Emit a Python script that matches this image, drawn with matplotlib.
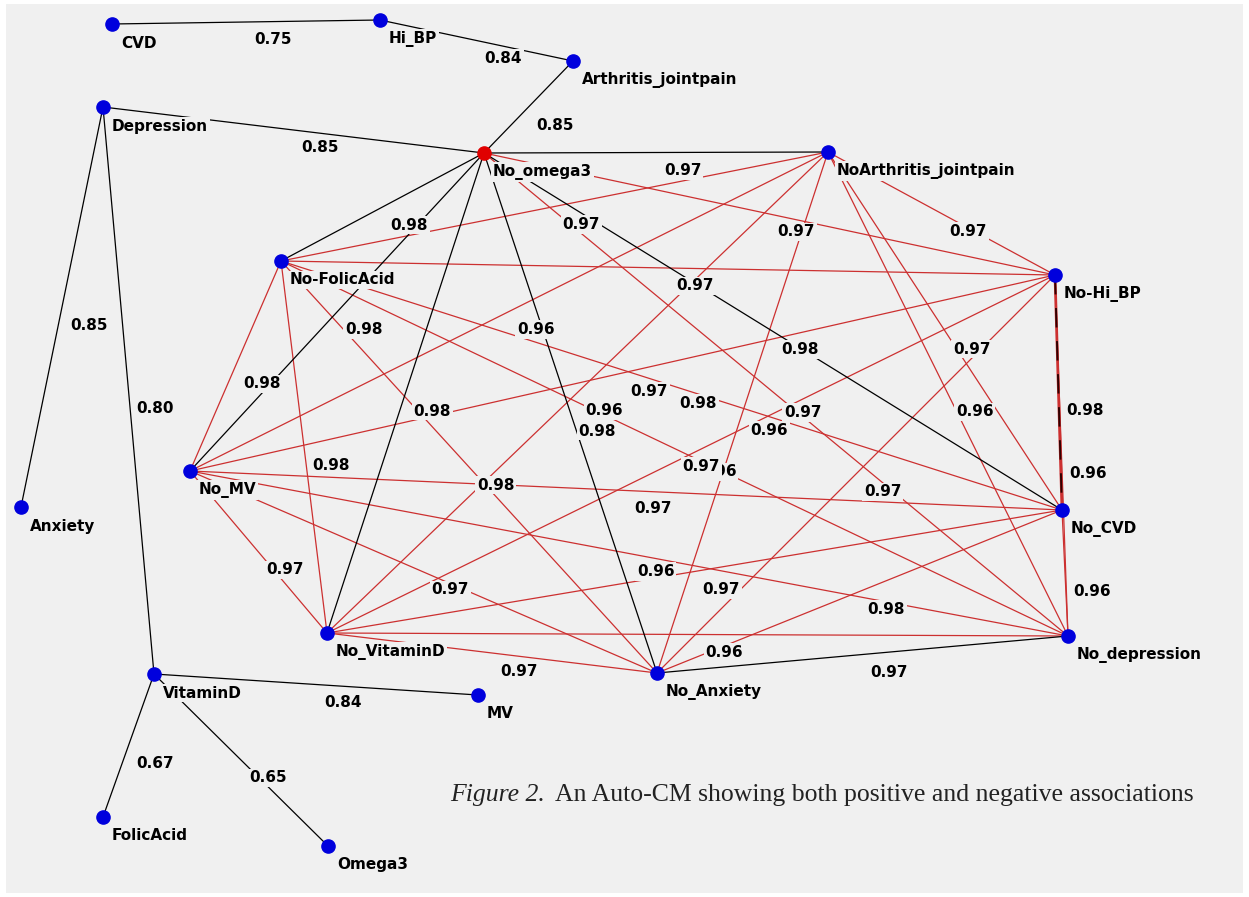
import matplotlib
matplotlib.use("Agg")
import matplotlib.pyplot as plt
from matplotlib.patches import Rectangle

# ---------------- data ----------------
node_names = ["CVD", "Hi_BP", "Arthritis_jointpain", "Depression", "No_omega3",
              "NoArthritis_jointpain", "No-FolicAcid", "No-Hi_BP", "No_MV", "Anxiety",
              "No_CVD", "No_VitaminD", "No_depression", "VitaminD", "No_Anxiety",
              "MV", "FolicAcid", "Omega3"]
highlight_node = "No_omega3"

edge_source = ["CVD", "Hi_BP", "Arthritis_jointpain", "Depression", "Depression",
               "Depression", "VitaminD", "VitaminD", "VitaminD",
               "No_omega3", "No_omega3", "No_omega3", "No_omega3", "No_omega3",
               "No_omega3", "No_omega3", "No_omega3",
               "NoArthritis_jointpain", "NoArthritis_jointpain", "NoArthritis_jointpain",
               "NoArthritis_jointpain", "NoArthritis_jointpain", "NoArthritis_jointpain",
               "NoArthritis_jointpain",
               "No-FolicAcid", "No-FolicAcid", "No-FolicAcid", "No-FolicAcid",
               "No-FolicAcid", "No-FolicAcid",
               "No-Hi_BP", "No-Hi_BP", "No-Hi_BP", "No-Hi_BP", "No-Hi_BP",
               "No_MV", "No_MV", "No_MV", "No_MV",
               "No_CVD", "No_CVD", "No_CVD",
               "No_VitaminD", "No_VitaminD",
               "No_depression"]
edge_target = ["Hi_BP", "Arthritis_jointpain", "No_omega3", "No_omega3", "Anxiety",
               "VitaminD", "MV", "FolicAcid", "Omega3",
               "NoArthritis_jointpain", "No-FolicAcid", "No-Hi_BP", "No_MV", "No_CVD",
               "No_VitaminD", "No_depression", "No_Anxiety",
               "No-FolicAcid", "No-Hi_BP", "No_MV", "No_CVD", "No_VitaminD",
               "No_depression", "No_Anxiety",
               "No-Hi_BP", "No_MV", "No_CVD", "No_VitaminD", "No_depression", "No_Anxiety",
               "No_MV", "No_CVD", "No_VitaminD", "No_depression", "No_Anxiety",
               "No_CVD", "No_VitaminD", "No_depression", "No_Anxiety",
               "No_VitaminD", "No_depression", "No_Anxiety",
               "No_depression", "No_Anxiety",
               "No_Anxiety"]
edge_value = [0.75, 0.84, 0.85, 0.85, 0.85, 0.80, 0.84, 0.67, 0.65,
              0.97, 0.98, 0.97, 0.98, 0.98, 0.98, 0.97, 0.98,
              0.97, 0.97, 0.96, 0.97, 0.96, 0.96, 0.96,
              0.97, 0.98, 0.98, 0.98, 0.97, 0.98,
              0.97, 0.98, 0.96, 0.96, 0.97,
              0.97, 0.97, 0.96, 0.97,
              0.97, 0.96, 0.98,
              0.96, 0.97,
              0.97]
edge_kind = ["k"] * 9 + \
            ["k", "k", "r", "k", "k", "k", "r", "k"] + \
            ["r"] * 7 + \
            ["r"] * 6 + \
            ["r", "m", "r", "r", "r"] + \
            ["r"] * 4 + \
            ["r"] * 3 + \
            ["r"] * 2 + \
            ["k"]

caption_italic = "Figure 2."
caption_text = "An Auto-CM showing both positive and negative associations"

# ---------------- layout (pixel coordinates, y downward) ----------------
layout = {
    "CVD": (112, 24), "Hi_BP": (380, 20), "Arthritis_jointpain": (573, 61),
    "Depression": (103, 107), "No_omega3": (484, 153),
    "NoArthritis_jointpain": (828, 152), "No-FolicAcid": (281, 261),
    "No-Hi_BP": (1055, 275), "No_MV": (190, 471), "Anxiety": (21, 507),
    "No_CVD": (1062, 510), "No_VitaminD": (327, 633), "No_depression": (1068, 636),
    "VitaminD": (154, 674), "No_Anxiety": (657, 673), "MV": (478, 695),
    "FolicAcid": (103, 817), "Omega3": (328, 846),
}

W, H = 1249, 897
BG = "#f0f0f0"
RED = "#cc3030"
fig = plt.figure(figsize=(W / 100, H / 100), dpi=100, facecolor="white")
ax = fig.add_axes([0, 0, 1, 1])
ax.set_xlim(0, W)
ax.set_ylim(H, 0)
ax.axis("off")
ax.add_patch(Rectangle((6, 4), W - 12, H - 8, facecolor=BG, edgecolor="none", zorder=0))

label_font = dict(family="DejaVu Sans", weight="bold", size=11, color="black")
box = dict(facecolor=BG, edgecolor="none", pad=1.2)

# edges
for s, t, k in zip(edge_source, edge_target, edge_kind):
    x0, y0 = layout[s]
    x1, y1 = layout[t]
    if k == "k":
        ax.plot([x0, x1], [y0, y1], color="black", lw=0.9, zorder=2, solid_capstyle="butt")
    elif k == "r":
        ax.plot([x0, x1], [y0, y1], color=RED, lw=0.9, zorder=1, solid_capstyle="butt")
    else:
        ax.plot([x0, x1], [y0, y1], color=RED, lw=2.0, zorder=2)
        ax.plot([x0, x1], [y0, y1], color="#300000", lw=1.4, zorder=2,
                dashes=(10, 7))

# edge labels (drawn at the edge midpoint)
n = len(edge_value)
for i in reversed(range(n)):
    x0, y0 = layout[edge_source[i]]
    x1, y1 = layout[edge_target[i]]
    mx, my = (x0 + x1) / 2, (y0 + y1) / 2
    ax.text(mx + 8, my + 18, f"{edge_value[i]:.2f}", ha="left", va="center",
            bbox=box, zorder=3 + (n - i) * 0.001, **label_font)

# node labels
for name in node_names:
    x, y = layout[name]
    ax.text(x + 9, y + 19, name, ha="left", va="center", bbox=box, zorder=4,
            **label_font)

# nodes
for name in node_names:
    x, y = layout[name]
    c = "#e00000" if name == highlight_node else "#0000dd"
    ax.plot([x], [y], "o", ms=9.5, color=c, mec=c, zorder=6)

# caption
fig.canvas.draw()
r = fig.canvas.get_renderer()
t1 = ax.text(450, 801, caption_italic, family="Liberation Serif", style="italic",
             size=18.5, color="#222222", ha="left", va="baseline", zorder=7)
bb = t1.get_window_extent(renderer=r)
x_end = ax.transData.inverted().transform((bb.x1, bb.y0))[0]
ax.text(x_end + 10, 801, caption_text, family="Liberation Serif", size=18.5,
        color="#222222", ha="left", va="baseline", zorder=7)

fig.savefig("out.png", dpi=100, facecolor="white")
